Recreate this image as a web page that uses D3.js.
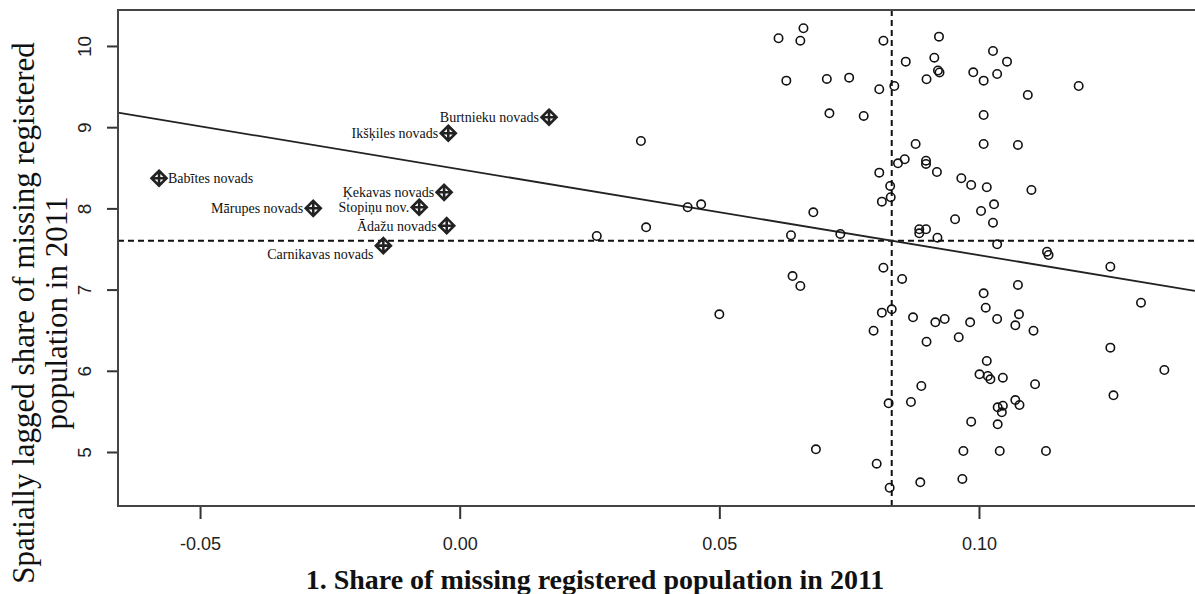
<!DOCTYPE html>
<html>
<head>
<meta charset="utf-8">
<script src="https://cdn.jsdelivr.net/npm/d3@7"></script>
<style>
  body { margin: 0; background: #fff; }
  svg { display: block; }
</style>
</head>
<body>
<svg id="mainsvg" width="1195" height="594"></svg>
<script>
// municipalities (unlabelled points)
const pointX = [0.0614, 0.0662, 0.0656, 0.0816, 0.0629, 0.0707, 0.0750, 0.0808, 0.0837, 0.0712,
  0.0778, 0.0349, 0.0844, 0.0808, 0.0829, 0.0813, 0.0830, 0.0439, 0.0465, 0.0681,
  0.0359, 0.0733, 0.0638, 0.0264, 0.0816, 0.0641, 0.0656, 0.0852, 0.0923, 0.0859,
  0.0914, 0.0921, 0.0924, 0.0899, 0.1027, 0.1054, 0.0989, 0.1035, 0.1009, 0.1192,
  0.1094, 0.1009, 0.0878, 0.1009, 0.1075, 0.0857, 0.0898, 0.0898, 0.0919, 0.0966,
  0.0985, 0.1015, 0.1101, 0.1029, 0.1004, 0.1027, 0.0954, 0.0885, 0.0898, 0.0885,
  0.0920, 0.1035, 0.1131, 0.1134, 0.1253, 0.1075, 0.1009, 0.1312, 0.1013, 0.0813,
  0.0832, 0.0873, 0.0916, 0.0934, 0.0983, 0.1035, 0.1077, 0.1070, 0.1105, 0.0797,
  0.0899, 0.0961, 0.1253, 0.1357, 0.1015, 0.1001, 0.1017, 0.1022, 0.1046, 0.1108,
  0.0889, 0.1259, 0.0826, 0.0869, 0.1036, 0.1046, 0.1044, 0.1070, 0.1078, 0.0985,
  0.1036, 0.0970, 0.1040, 0.1129, 0.0803, 0.0887, 0.0968, 0.0500, 0.0686, 0.0828]
const pointY = [10.095, 10.218, 10.065, 10.065, 9.573, 9.594, 9.610, 9.467, 9.507, 9.171,
  9.138, 8.830, 8.555, 8.440, 8.276, 8.083, 8.137, 8.014, 8.050, 7.952,
  7.767, 7.685, 7.669, 7.660, 7.270, 7.167, 7.044, 7.131, 10.115, 9.807,
  9.856, 9.698, 9.674, 9.590, 9.938, 9.807, 9.676, 9.655, 9.573, 9.507,
  9.397, 9.150, 8.793, 8.793, 8.781, 8.605, 8.587, 8.547, 8.448, 8.371,
  8.288, 8.260, 8.227, 8.050, 7.968, 7.824, 7.866, 7.743, 7.743, 7.693,
  7.639, 7.558, 7.467, 7.426, 7.282, 7.057, 6.954, 6.839, 6.777, 6.716,
  6.757, 6.659, 6.597, 6.638, 6.597, 6.638, 6.696, 6.560, 6.494, 6.494,
  6.358, 6.413, 6.285, 6.010, 6.121, 5.957, 5.936, 5.895, 5.915, 5.834,
  5.813, 5.698, 5.600, 5.616, 5.550, 5.570, 5.489, 5.640, 5.579, 5.373,
  5.341, 5.012, 5.012, 5.012, 4.856, 4.627, 4.668, 6.696, 5.033, 4.560]

// labelled outliers
const labelNames = ['Babītes novads', 'Burtnieku novads', 'Ikšķiles novads', 'Ķekavas novads',
  'Mārupes novads', 'Stopiņu nov.', 'Ādažu novads', 'Carnikavas novads']
const labelX = [-0.0579, 0.0172, -0.0022, -0.0030, -0.0282, -0.0078, -0.0025, -0.0147]
const labelY = [8.371, 9.122, 8.925, 8.198, 8.001, 8.014, 7.787, 7.541]
const labelSide = ['right', 'left', 'left', 'left', 'left', 'left', 'left', 'belowleft']

const meanX = 0.0832
const meanY = 7.602
const fitIntercept = 8.482
const fitSlope = -10.58

const xTicks = [-0.05, 0, 0.05, 0.10]
const xTickLabels = ['-0.05', '0.00', '0.05', '0.10']
const yTicks = [5, 6, 7, 8, 9, 10]
const xDomain = [-0.0658, 0.1416]
const yDomain = [4.335, 10.443]

const svg = d3.select('#mainsvg')
const width = +svg.attr('width')
const height = +svg.attr('height')
const margin = { top: 10, right: 0, left: 118, bottom: 88 }

const x = d3.scaleLinear().domain(xDomain).range([margin.left, width - margin.right])
const y = d3.scaleLinear().domain(yDomain).range([height - margin.bottom, margin.top])

svg.append('rect').attr('width', width).attr('height', height).attr('fill', '#fff')

const g = svg.append('g')

// mean lines
g.append('line')
  .attr('x1', x(meanX)).attr('x2', x(meanX))
  .attr('y1', y(yDomain[1])).attr('y2', y(yDomain[0]))
  .attr('stroke', '#111').attr('stroke-width', 2).attr('stroke-dasharray', '6,4')
g.append('line')
  .attr('x1', x(xDomain[0])).attr('x2', x(xDomain[1]))
  .attr('y1', y(meanY)).attr('y2', y(meanY))
  .attr('stroke', '#111').attr('stroke-width', 2).attr('stroke-dasharray', '6,4')

// regression line
g.append('line')
  .attr('x1', x(xDomain[0])).attr('y1', y(fitIntercept + fitSlope * xDomain[0]))
  .attr('x2', x(xDomain[1])).attr('y2', y(fitIntercept + fitSlope * xDomain[1]))
  .attr('stroke', '#222').attr('stroke-width', 1.8)

// points
g.selectAll('circle').data(pointX).join('circle')
  .attr('cx', d => x(d))
  .attr('cy', (d, i) => y(pointY[i]))
  .attr('r', 4.2)
  .attr('fill', 'none')
  .attr('stroke', '#111')
  .attr('stroke-width', 1.6)

// labelled points: diamond with cross
const s = 7.5
const labelled = g.selectAll('.lab').data(labelNames).join('g')
  .attr('class', 'lab')
  .attr('transform', (d, i) => `translate(${x(labelX[i])},${y(labelY[i])})`)
labelled.append('path')
  .attr('d', `M0,${-s}L${s},0L0,${s}L${-s},0Z M${-s},0H${s} M0,${-s}V${s}`)
  .attr('fill', 'none')
  .attr('stroke', '#222')
  .attr('stroke-width', 2.6)
labelled.append('text')
  .text(d => d)
  .attr('x', (d, i) => labelSide[i] === 'right' ? 9 : -10)
  .attr('y', (d, i) => labelSide[i] === 'belowleft' ? 8 : 0)
  .attr('dy', '0.35em')
  .attr('text-anchor', (d, i) => labelSide[i] === 'right' ? 'start' : 'end')
  .attr('font-family', '"Liberation Serif", "Times New Roman", serif')
  .attr('font-size', 14)
  .attr('fill', '#111')

// axes
const xAxis = d3.axisBottom(x).tickValues(xTicks)
  .tickFormat((d, i) => xTickLabels[i]).tickSize(13).tickPadding(18)
const xg = svg.append('g').attr('transform', `translate(0,${height - margin.bottom})`).call(xAxis)
xg.select('.domain').remove()
xg.selectAll('line').attr('stroke', '#333').attr('stroke-width', 2)
xg.selectAll('text')
  .attr('font-family', '"Liberation Sans", Arial, sans-serif')
  .attr('font-size', 18).attr('fill', '#222')

const yAxis = d3.axisLeft(y).tickValues(yTicks).tickFormat(d3.format('d')).tickSize(11)
const yg = svg.append('g').attr('transform', `translate(${margin.left},0)`).call(yAxis)
yg.select('.domain').remove()
yg.selectAll('line').attr('stroke', '#333').attr('stroke-width', 2)
yg.selectAll('text')
  .attr('x', null).attr('dy', null)
  .attr('text-anchor', 'middle')
  .attr('transform', 'translate(-27,0) rotate(-90)')
  .attr('font-family', '"Liberation Sans", Arial, sans-serif')
  .attr('font-size', 19).attr('fill', '#222')

// frame (right side falls outside the picture)
svg.append('path')
  .attr('d', `M${width + 5},${margin.top}H${margin.left}V${height - margin.bottom}H${width + 5}`)
  .attr('fill', 'none').attr('stroke', '#444').attr('stroke-width', 2)

// axis titles
svg.append('text')
  .attr('x', 595).attr('y', 589)
  .attr('text-anchor', 'middle')
  .attr('font-family', '"Liberation Serif", "Times New Roman", serif')
  .attr('font-weight', 'bold').attr('font-size', 28).attr('fill', '#111')
  .text('1. Share of missing registered population in 2011')

const ylab = svg.append('text')
  .attr('transform', 'translate(0,313) rotate(-90)')
  .attr('text-anchor', 'middle')
  .attr('font-family', '"Liberation Serif", "Times New Roman", serif')
  .attr('font-size', 31).attr('fill', '#111')
ylab.append('tspan').attr('x', 0).attr('y', 34).text('Spatially lagged share of missing registered')
ylab.append('tspan').attr('x', 0).attr('y', 67).text('population in 2011')
</script>
</body>
</html>
